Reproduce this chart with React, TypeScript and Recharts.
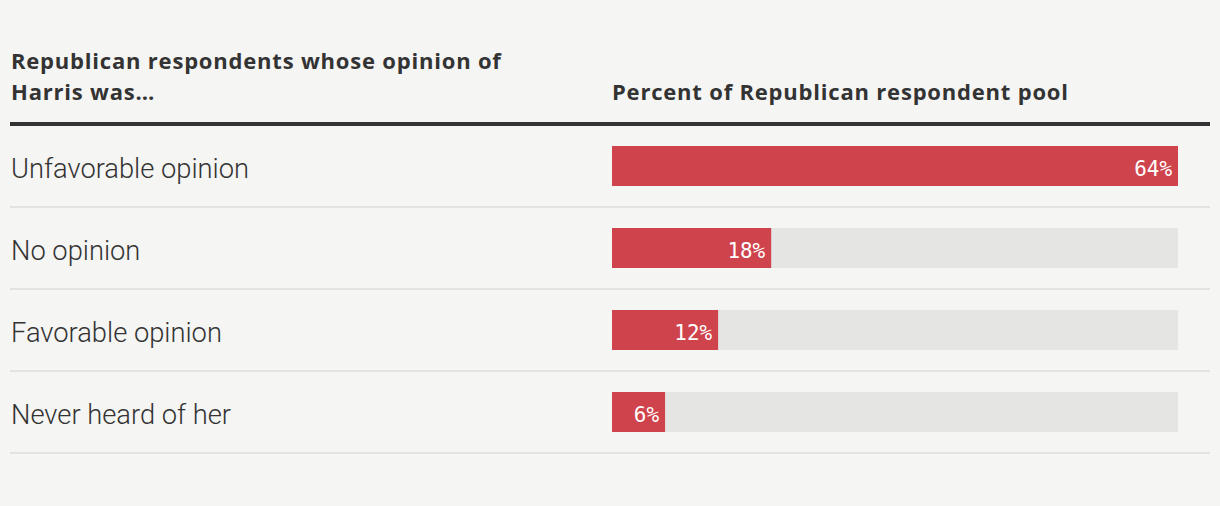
import { BarChart, Bar, XAxis, YAxis, LabelList } from "recharts"

const categories = ["Unfavorable opinion", "No opinion", "Favorable opinion", "Never heard of her"]
const shares = [64, 18, 12, 6]
const leftTitle = ["Republican respondents whose opinion of", "Harris was…"]
const rightTitle = "Percent of Republican respondent pool"

const data = categories.map((label, i) => ({ label, value: shares[i] }))

const headStyle = { fontFamily: "Open Sans", fontWeight: 700, fontSize: 22, letterSpacing: 0.8, fill: "#333" }

const RowTick = (props: any) => {
  const { y, payload } = props
  return (
    <g>
      <text
        x={11}
        y={y}
        dy={12}
        textAnchor="start"
        fill="#333"
        style={{ fontFamily: "Roboto", fontWeight: 300, fontSize: 27.3 }}
      >
        {payload.value}
      </text>
      <line x1={10} x2={1210} y1={y + 41} y2={y + 41} stroke="#e3e3e1" strokeWidth={2} />
    </g>
  )
}

const ValueLabel = (props: any) => {
  const { x, y, width, height, value } = props
  const txt = `${value}%`
  return (
    <text
      x={x + width - 6}
      y={y + height / 2}
      dy={10}
      textAnchor="end"
      fill="#fff"
      textLength={txt.length * 12.6}
      lengthAdjust="spacingAndGlyphs"
      style={{ fontFamily: "DejaVu Sans Mono", fontSize: 22 }}
    >
      {txt}
    </text>
  )
}

export default function App() {
  return (
    <div
      style={{
        position: "fixed",
        left: 0,
        top: 0,
        width: 1220,
        height: 506,
        background: "#f5f5f3",
      }}
    >
      <svg width={1220} height={130} style={{ position: "absolute", left: 0, top: 0 }}>
        <text x={11} y={69} style={headStyle}>{leftTitle[0]}</text>
        <text x={11} y={100} style={headStyle}>{leftTitle[1]}</text>
        <text x={612} y={100} style={headStyle}>{rightTitle}</text>
        <rect x={10} y={122} width={1200} height={4} fill="#333" />
      </svg>
      <div style={{ position: "absolute", left: 0, top: 0 }}>
        <BarChart
          width={1220}
          height={506}
          data={data}
          layout="vertical"
          margin={{ top: 125, right: 42, bottom: 53, left: 0 }}
          barSize={40}
        >
          <XAxis type="number" domain={[0, 64]} hide />
          <YAxis
            type="category"
            dataKey="label"
            width={612}
            axisLine={false}
            tickLine={false}
            tick={<RowTick />}
            interval={0}
          />
          <Bar dataKey="value" fill="#cf434d" background={{ fill: "#e5e5e3" }} isAnimationActive={false}>
            <LabelList dataKey="value" content={<ValueLabel />} />
          </Bar>
        </BarChart>
      </div>
    </div>
  )
}
